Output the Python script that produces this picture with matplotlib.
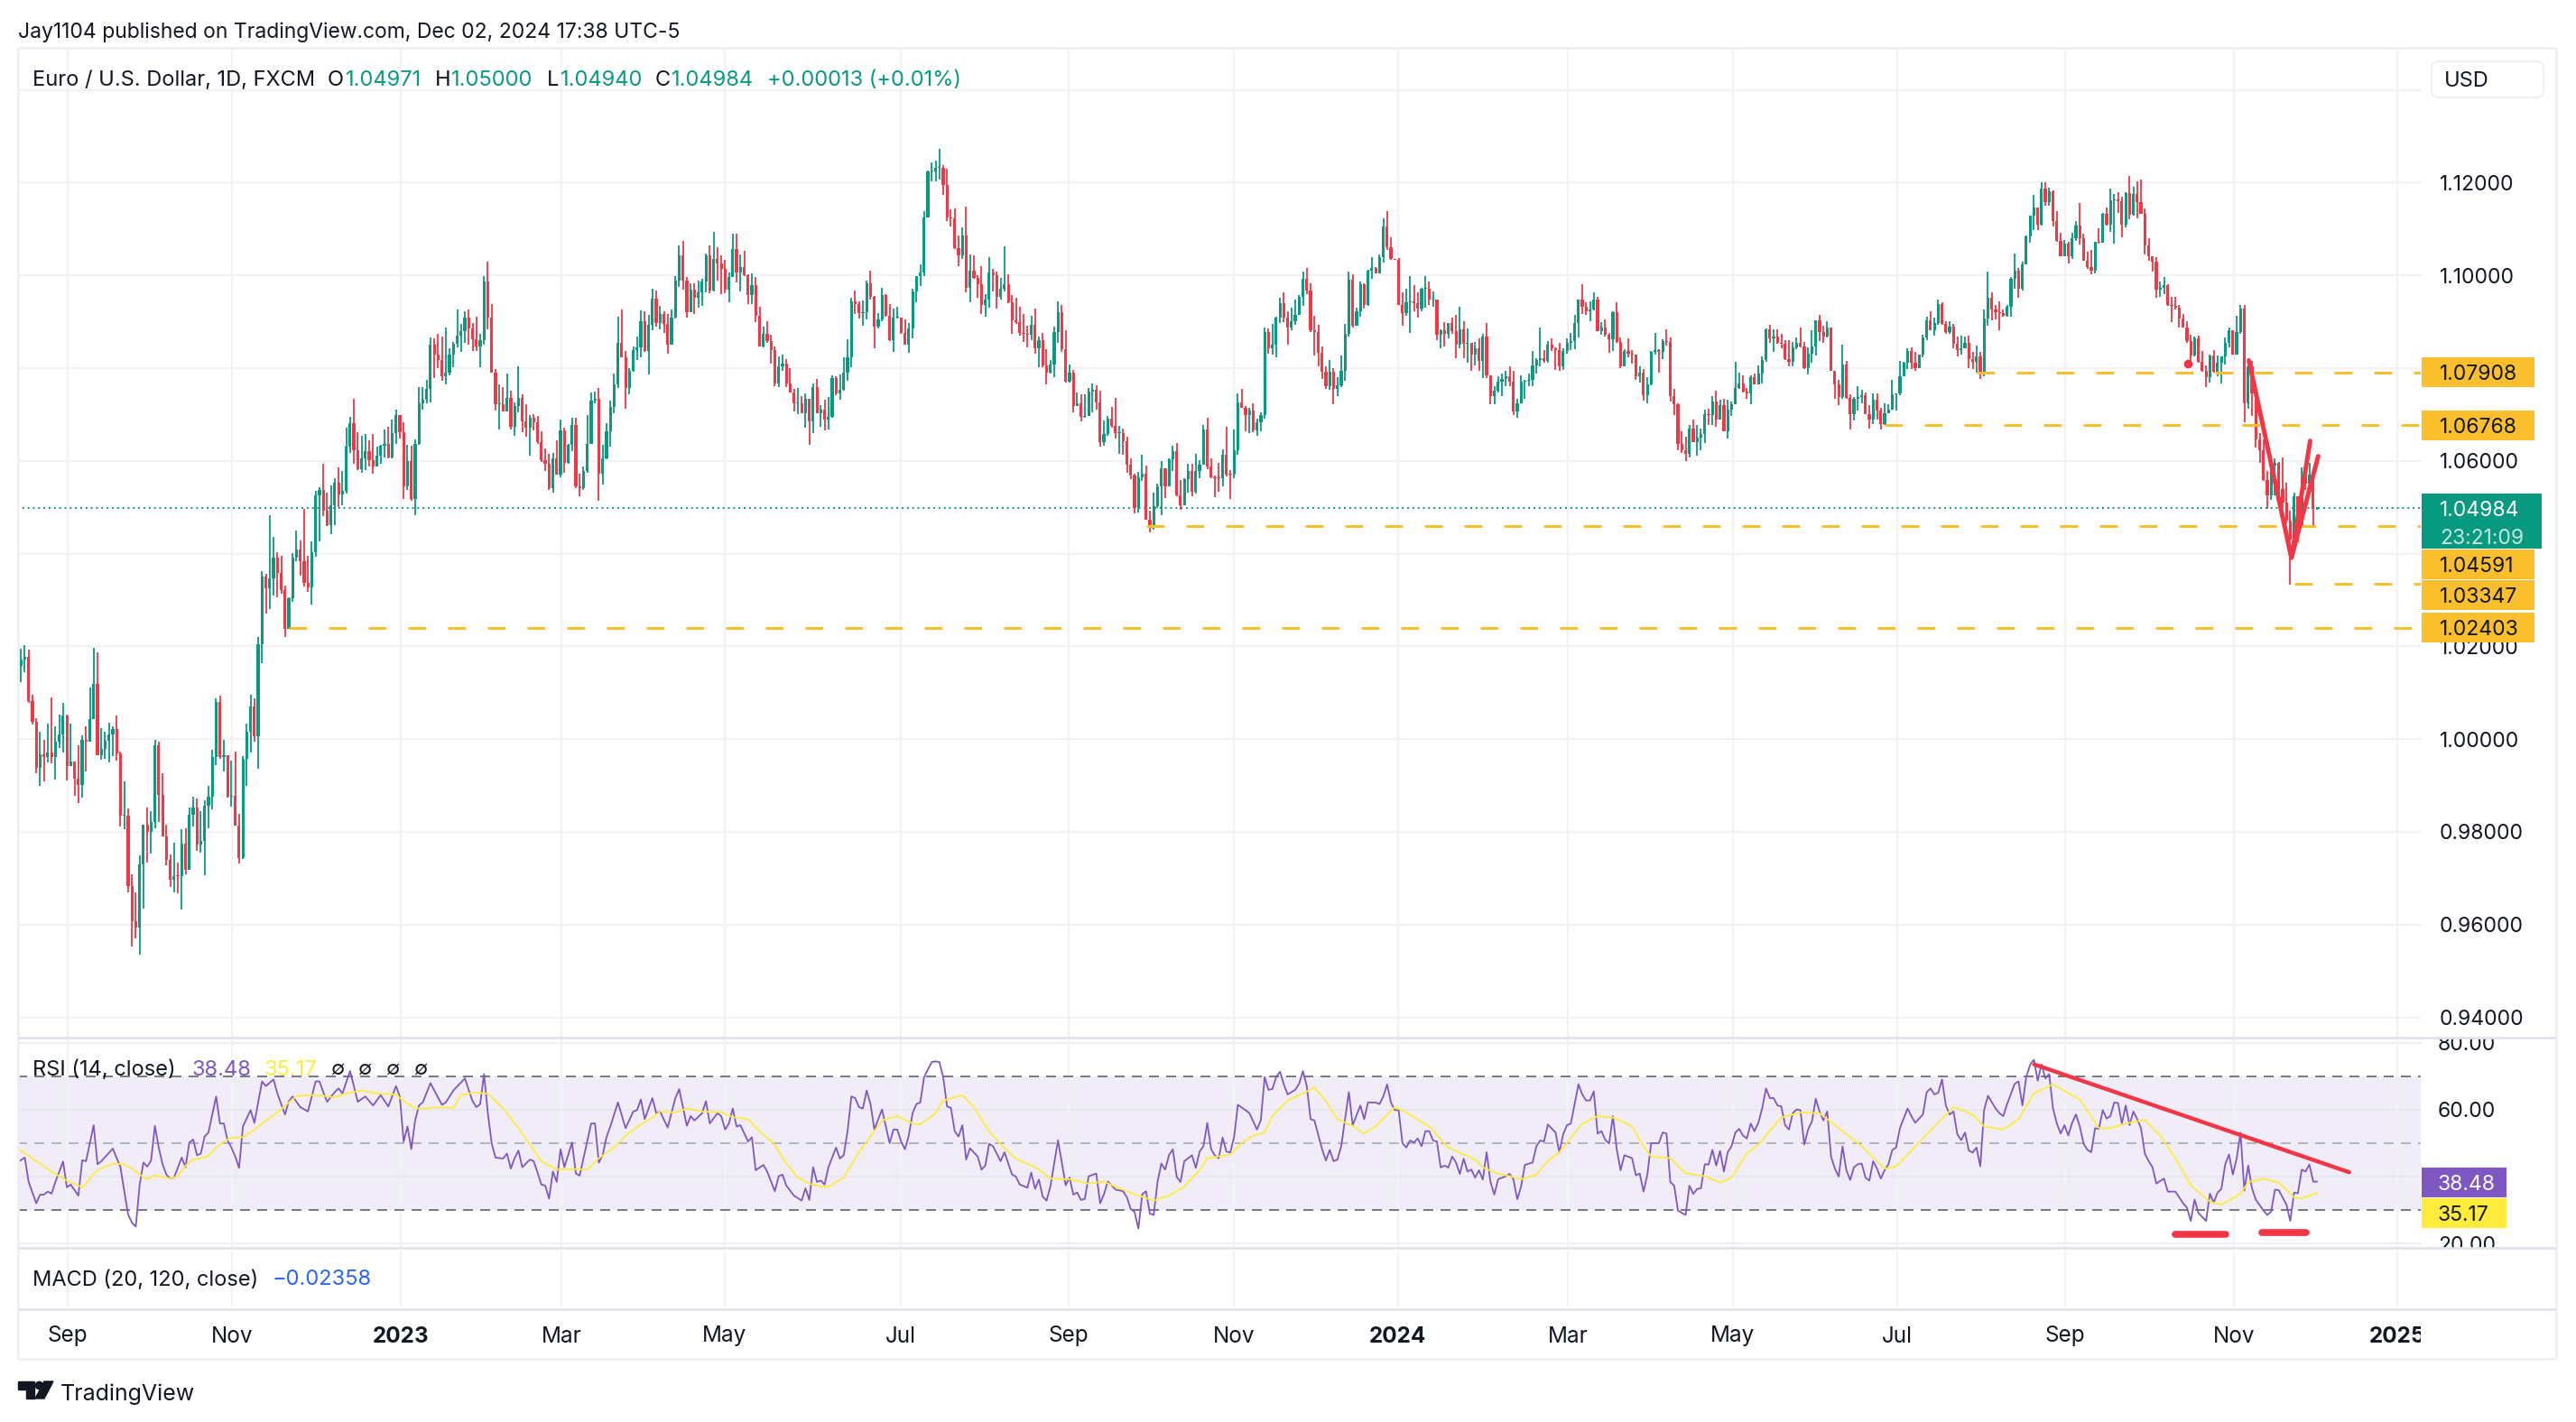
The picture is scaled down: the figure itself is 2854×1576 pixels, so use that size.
import numpy as np
import matplotlib.pyplot as plt
from matplotlib.patches import FancyBboxPatch

W, H = 2854, 1576

# daily bars in pips, 1.0000 = 10000
first_open = 10256
closes = [
    10157,10172,10177,10083,10038,9939,9967,9962,9972,9962,9994,10010,10050,9942,9952,9914,9902,9999,9994,10043,
    10119,9966,9979,9997,10011,10022,9969,9835,9835,9684,9608,9593,9729,9815,9799,9822,9986,9880,9791,9739,
    9697,9705,9704,9774,9718,9837,9853,9773,9781,9857,9875,9961,10080,9961,9966,9875,9878,9813,9744,9957,
    10016,10070,10006,10204,10350,10325,10347,10392,10358,10322,10238,10303,10392,10409,10383,10337,10327,10403,10525,10538,
    10492,10461,10504,10553,10528,10535,10630,10682,10622,10583,10605,10620,10602,10588,10612,10632,10637,10608,10660,10698,
    10662,10545,10600,10518,10637,10725,10731,10755,10850,10830,10818,10783,10791,10830,10853,10870,10880,10909,10885,10862,
    10847,10860,10986,10909,10791,10723,10723,10707,10735,10674,10718,10735,10685,10672,10693,10684,10640,10602,10593,10541,
    10606,10570,10665,10595,10634,10677,10546,10541,10578,10637,10729,10733,10572,10606,10663,10716,10764,10854,10824,10758,
    10795,10839,10844,10902,10837,10894,10949,10898,10917,10896,10850,10908,10989,11044,10989,10920,10970,10951,10964,10987,
    11044,10968,11036,11026,11014,10970,10997,11057,11006,11017,11000,10957,10978,10913,10847,10873,10859,10839,10766,10803,
    10810,10766,10748,10724,10724,10703,10733,10685,10760,10703,10711,10689,10695,10779,10745,10753,10791,10823,10943,10939,
    10918,10920,10983,10954,10889,10905,10958,10912,10860,10908,10909,10876,10850,10886,10965,10999,11006,11125,11224,11224,
    11231,11231,11195,11125,11122,11059,11044,11085,10973,11011,10994,10980,10936,10947,11007,11000,10953,10971,10980,10942,
    10903,10899,10876,10873,10872,10894,10842,10861,10806,10791,10808,10878,10921,10841,10771,10791,10719,10725,10694,10697,
    10749,10753,10726,10641,10658,10691,10676,10659,10659,10642,10591,10569,10498,10564,10572,10474,10456,10503,10545,10584,
    10546,10603,10620,10526,10505,10560,10578,10534,10579,10592,10668,10587,10565,10563,10562,10613,10571,10570,10622,10726,
    10715,10698,10709,10666,10683,10698,10878,10843,10850,10909,10940,10909,10887,10902,10914,10953,10992,10968,10882,10877,
    10833,10793,10761,10792,10756,10763,10794,10874,10990,10892,10922,10981,10936,11010,11015,11005,11040,11105,11060,11036,
    11034,10937,10919,10942,10944,10940,10929,10971,10972,10948,10948,10872,10882,10873,10897,10880,10851,10884,10852,10854,
    10830,10843,10816,10869,10785,10740,10752,10770,10777,10782,10770,10706,10725,10770,10773,10775,10805,10818,10822,10816,
    10850,10843,10838,10803,10837,10854,10858,10897,10948,10932,10922,10927,10948,10880,10887,10871,10863,10920,10856,10804,
    10836,10831,10830,10783,10790,10741,10765,10835,10838,10835,10858,10856,10740,10723,10636,10622,10616,10670,10641,10651,
    10657,10701,10699,10728,10689,10720,10663,10711,10722,10758,10767,10750,10746,10780,10765,10788,10817,10884,10864,10868,
    10855,10852,10819,10813,10845,10855,10847,10799,10831,10847,10903,10877,10868,10888,10795,10764,10738,10808,10735,10701,
    10733,10737,10742,10701,10689,10732,10709,10679,10703,10710,10743,10745,10782,10811,10837,10811,10800,10829,10866,10903,
    10881,10898,10939,10895,10877,10890,10852,10838,10843,10855,10819,10813,10826,10787,10907,10952,10926,10921,10919,10913,
    10932,10992,11011,10971,11024,11084,11128,11147,11110,11188,11158,11182,11118,11075,11042,11068,11042,11081,11108,11081,
    11032,11018,11011,11073,11071,11133,11110,11161,11163,11159,11110,11178,11130,11175,11157,11133,11065,11041,11029,10970,
    10973,10979,10937,10935,10930,10907,10888,10859,10828,10864,10813,10795,10780,10828,10792,10811,10826,10855,10882,10830,
    10877,10928,10725,10803,10745,10647,10622,10558,10526,10590,10595,10540,10511,10472,10430,10524,10459,10566,10550,10570,
    10497,10498,
]
highs = [
    10268,10195,10202,10192,10096,10046,10016,9999,10033,10090,10028,10053,10078,10053,10033,9944,9987,10008,10028,10112,
    10197,10187,10023,10016,10035,10028,10051,9974,9908,9850,9709,9670,9749,9815,9853,9845,9999,9994,9926,9815,
    9751,9776,9734,9806,9808,9853,9875,9872,9845,9868,9900,9977,10088,10093,9999,9966,9954,9974,9838,9964,
    10033,10095,10088,10221,10363,10357,10482,10437,10404,10395,10332,10305,10402,10449,10429,10496,10395,10427,10535,10543,
    10593,10531,10548,10563,10586,10579,10672,10694,10734,10662,10655,10657,10644,10658,10630,10634,10667,10674,10690,10711,
    10698,10684,10634,10632,10647,10759,10759,10774,10866,10865,10873,10868,10887,10842,10857,10926,10895,10922,10927,10898,
    10911,10873,10998,11030,10939,10798,10764,10759,10789,10751,10726,10803,10743,10722,10698,10701,10696,10664,10627,10615,
    10618,10644,10690,10672,10637,10692,10692,10573,10588,10698,10747,10749,10758,10634,10682,10729,10788,10910,10927,10836,
    10800,10847,10868,10925,10923,10915,10972,10968,10934,10922,10916,10927,10999,11065,11075,10997,10983,10982,10988,10992,
    11048,11065,11094,11061,11044,11034,11007,11090,11090,11046,11052,11002,11004,10997,10933,10889,10902,10871,10846,10826,
    10830,10819,10800,10755,10757,10740,10745,10733,10766,10777,10721,10731,10737,10784,10782,10787,10823,10863,10951,10968,
    10944,10946,10989,11011,10955,10918,10973,10960,10939,10929,10932,10909,10905,10898,10972,10999,11024,11138,11226,11244,
    11247,11273,11237,11229,11143,11145,11085,11104,11149,11046,11044,11001,11019,10960,11039,11014,11009,10994,11063,11002,
    10958,10951,10933,10916,10892,10912,10929,10868,10875,10841,10818,10890,10943,10937,10881,10807,10797,10747,10744,10744,
    10758,10766,10763,10751,10687,10696,10716,10735,10676,10669,10653,10606,10572,10577,10614,10590,10493,10531,10550,10600,
    10573,10605,10633,10639,10558,10562,10594,10594,10615,10602,10677,10693,10605,10568,10596,10625,10673,10581,10667,10746,
    10755,10719,10714,10724,10691,10704,10887,10885,10895,10911,10951,10964,10922,10931,10948,10957,11008,11015,10983,10913,
    10893,10847,10804,10818,10800,10780,10827,10895,11008,11002,10930,10986,10983,11012,11039,11017,11045,11122,11138,11083,
    11036,11038,10964,10971,10998,10978,10964,10973,10998,10986,10966,10948,10884,10900,10897,10908,10915,10932,10901,10885,
    10847,10856,10864,10874,10897,10780,10761,10782,10788,10795,10804,10794,10733,10785,10774,10788,10837,10822,10887,10838,
    10858,10864,10845,10854,10843,10865,10876,10915,10948,10981,10942,10943,10963,10953,10900,10905,10875,10922,10942,10867,
    10840,10864,10838,10827,10804,10798,10780,10836,10876,10841,10862,10884,10866,10755,10725,10664,10653,10678,10689,10678,
    10669,10710,10713,10739,10751,10731,10733,10731,10728,10813,10790,10785,10758,10784,10789,10806,10826,10886,10894,10884,
    10883,10873,10861,10860,10856,10866,10888,10856,10845,10882,10903,10915,10891,10901,10888,10780,10774,10851,10816,10744,
    10738,10761,10753,10748,10721,10746,10746,10715,10725,10723,10775,10745,10816,10814,10842,10845,10834,10830,10871,10910,
    10923,10908,10947,10941,10901,10901,10895,10868,10870,10869,10870,10835,10848,10834,10926,11008,10964,10937,10943,10926,
    10936,10997,11047,11015,11029,11086,11129,11173,11147,11200,11200,11190,11183,11139,11092,11076,11072,11091,11118,11156,
    11089,11050,11054,11073,11101,11134,11146,11188,11175,11180,11169,11180,11214,11191,11202,11207,11144,11081,11042,11039,
    10987,10996,10981,10954,10954,10936,10916,10901,10871,10869,10870,10837,10806,10829,10839,10828,10826,10866,10888,10882,
    10913,10936,10936,10822,10816,10767,10660,10647,10579,10592,10605,10598,10608,10553,10492,10531,10524,10586,10566,10595,
    10570,10500,
]
lows = [
    10152,10122,10145,10078,10031,9926,9900,9909,9949,9947,9912,9981,9972,9911,9942,9878,9863,9874,9931,9994,
    10058,9966,9956,9957,9949,9964,9954,9812,9806,9669,9553,9570,9536,9635,9734,9753,9808,9822,9791,9728,
    9682,9670,9667,9632,9708,9719,9812,9759,9756,9707,9808,9848,9943,9957,9931,9873,9855,9813,9731,9741,
    9900,9971,9994,9937,10164,10271,10281,10310,10305,10313,10221,10238,10296,10383,10353,10330,10318,10291,10393,10427,
    10481,10459,10442,10462,10501,10504,10530,10617,10593,10581,10575,10580,10588,10573,10588,10594,10607,10605,10606,10637,
    10649,10518,10538,10513,10482,10635,10710,10724,10726,10779,10799,10773,10765,10784,10801,10844,10835,10855,10850,10836,
    10836,10802,10850,10883,10791,10708,10668,10707,10707,10667,10654,10705,10661,10652,10611,10665,10636,10598,10578,10537,
    10532,10570,10565,10575,10593,10620,10541,10523,10537,10575,10648,10724,10514,10549,10604,10630,10702,10757,10823,10713,
    10744,10793,10817,10823,10834,10786,10881,10889,10883,10875,10831,10850,10907,10975,10970,10908,10920,10916,10931,10935,
    10964,10962,10965,10989,10960,10962,10941,10996,10984,10965,10999,10939,10939,10899,10846,10844,10854,10810,10761,10760,
    10794,10759,10747,10706,10701,10702,10672,10635,10659,10702,10674,10666,10667,10692,10742,10732,10751,10773,10802,10916,
    10907,10891,10905,10947,10843,10885,10901,10911,10859,10835,10907,10874,10850,10833,10865,10941,10977,10999,11124,11203,
    11202,11207,11173,11118,11106,11057,11019,11036,10964,10941,10992,10951,10916,10911,10931,10965,10928,10947,10966,10940,
    10873,10896,10870,10856,10844,10861,10831,10802,10802,10765,10789,10780,10854,10834,10769,10769,10705,10718,10685,10693,
    10705,10705,10710,10630,10632,10654,10672,10648,10615,10614,10574,10560,10487,10489,10557,10473,10446,10452,10499,10482,
    10519,10554,10579,10524,10495,10508,10532,10523,10529,10563,10592,10583,10563,10521,10534,10545,10567,10517,10563,10614,
    10714,10664,10659,10662,10655,10664,10691,10832,10830,10824,10898,10900,10851,10882,10893,10924,10934,10960,10877,10827,
    10804,10777,10756,10754,10722,10740,10759,10773,10869,10888,10891,10911,10928,10934,10992,11005,11005,11028,11054,11033,
    11033,10937,10891,10913,10876,10923,10909,10923,10931,10937,10932,10860,10843,10847,10865,10874,10822,10843,10821,10812,
    10795,10806,10795,10779,10779,10722,10722,10748,10740,10761,10762,10699,10693,10724,10733,10762,10762,10788,10803,10812,
    10812,10836,10796,10795,10796,10832,10839,10841,10866,10917,10915,10901,10924,10880,10872,10869,10833,10836,10854,10800,
    10803,10823,10809,10775,10768,10730,10725,10763,10829,10791,10820,10848,10728,10699,10622,10618,10600,10607,10641,10611,
    10623,10638,10678,10677,10673,10689,10663,10649,10696,10722,10755,10748,10734,10722,10764,10766,10766,10813,10855,10835,
    10853,10842,10817,10804,10804,10840,10845,10798,10787,10811,10828,10859,10855,10866,10795,10733,10720,10734,10734,10667,
    10687,10709,10724,10700,10670,10679,10690,10667,10677,10702,10719,10709,10742,10782,10798,10798,10795,10811,10824,10861,
    10881,10870,10894,10894,10874,10873,10843,10826,10829,10842,10800,10798,10791,10777,10782,10892,10903,10905,10881,10910,
    10910,10911,10971,10951,10968,11023,11071,11097,11097,11108,11151,11150,11106,11073,11041,11042,11026,11036,11075,11067,
    11031,11013,11002,11005,11069,11075,11108,11094,11068,11135,11083,11104,11121,11128,11123,11133,11046,11031,11009,10951,
    10954,10960,10935,10900,10926,10888,10887,10854,10813,10826,10811,10793,10760,10769,10790,10782,10767,10808,10845,10830,
    10874,10873,10683,10712,10696,10628,10595,10556,10497,10516,10525,10498,10498,10466,10333,10450,10424,10459,10537,10540,
    10459,10494,
]

# RSI line, vertices seen on the chart
rsi_bars = [
    0,2,3,5,6,7,8,9,10,12,13,14,16,17,18,20,21,22,25,27,28,29,30,31,32,33,34,35,36,37,38,39,40,41,43,44,45,46,47,48,
    49,50,52,53,54,55,56,57,58,59,61,62,64,65,67,68,70,71,72,74,76,78,79,80,81,83,84,85,87,88,89,91,93,95,97,99,100,101,102,103,
    104,105,106,108,109,111,112,114,116,117,119,120,121,122,123,124,125,127,128,129,130,131,132,134,135,137,138,139,140,141,142,143,145,146,147,148,150,151,152,153,
    154,155,157,159,161,162,163,164,166,167,168,170,172,173,175,176,177,179,180,181,183,184,185,186,187,188,189,191,192,193,195,196,198,199,200,201,203,205,206,207,
    208,209,210,211,212,214,215,216,217,218,219,220,221,222,223,224,226,228,229,230,231,232,233,234,235,236,237,239,240,241,242,243,244,245,246,247,248,249,251,252,
    253,254,255,257,258,260,261,262,264,265,266,267,268,269,270,272,274,275,276,277,278,279,280,282,283,284,285,286,287,289,290,291,292,293,294,295,296,297,298,299,
    300,301,302,303,304,305,307,308,309,310,311,312,313,314,315,316,317,318,319,321,322,324,325,326,327,328,329,330,331,332,334,335,336,337,338,339,341,342,343,344,
    345,346,348,349,351,352,353,355,356,357,358,359,360,361,362,363,364,365,366,367,368,369,370,371,372,373,374,375,376,377,378,379,380,381,382,383,384,385,386,387,
    389,390,391,392,393,394,396,397,398,399,400,402,403,404,405,406,408,409,410,411,412,413,414,415,416,417,418,419,420,422,423,424,425,426,427,429,430,431,432,433,
    434,436,437,438,439,440,441,442,443,444,445,446,447,448,449,450,451,452,453,454,455,456,457,458,459,460,461,462,463,464,465,466,467,468,469,470,471,472,473,474,
    475,476,477,478,479,480,481,482,483,484,485,486,487,488,489,490,491,492,494,495,496,498,499,500,501,502,503,504,505,506,507,508,509,510,511,512,513,514,515,517,
    518,519,520,522,523,524,525,526,527,528,529,530,531,532,533,534,535,536,537,538,539,540,541,542,543,544,545,546,547,548,549,550,551,552,553,554,555,556,557,558,
    559,561,562,564,566,567,568,569,570,572,573,574,575,576,577,578,579,580,581,582,583,584,585,587,588,589,590,591,593,594,595,596,597,598,599,600,601,
]
rsi_values = [
    44.2,45.7,38.4,32.0,34.6,34.6,35.5,34.9,38.4,44.5,36.8,37.6,34.3,44.9,44.6,55.4,43.7,44.6,48.4,42.8,35.6,28.7,26.2,25.0,37.4,44.2,43.0,44.8,55.2,48.7,43.7,40.6,39.4,39.7,45.7,42.8,50.2,51.1,46.4,46.9,
    52.0,53.2,64.0,55.9,55.9,50.8,48.7,46.0,42.6,55.0,59.9,56.1,68.5,67.1,69.1,64.9,58.6,62.6,64.0,60.8,59.5,68.5,68.5,65.3,62.4,65.3,66.4,64.9,71.6,67.1,62.4,64.0,61.3,64.4,61.0,67.1,64.0,50.5,55.0,48.2,
    56.8,61.3,62.2,68.0,65.8,61.5,62.2,65.8,68.2,69.4,62.6,60.8,61.7,70.7,59.0,50.0,45.7,45.4,46.9,42.4,45.5,47.8,42.8,45.1,44.6,37.6,37.3,33.4,41.5,38.4,48.2,42.8,50.2,40.9,40.3,45.5,55.9,55.9,44.2,46.4,
    51.8,55.0,62.2,54.5,59.5,59.9,63.1,57.2,63.5,59.0,59.5,54.7,63.5,66.2,55.2,58.1,56.8,59.0,62.6,55.9,59.0,58.1,54.1,55.9,60.4,55.0,55.4,50.5,51.8,41.9,43.5,41.5,35.6,40.1,40.6,37.3,34.3,32.8,36.5,33.0,
    42.8,38.4,38.8,37.6,42.8,48.7,45.4,46.4,53.6,64.0,63.5,60.8,60.4,65.8,61.7,54.1,60.1,50.0,54.1,54.1,50.5,48.2,52.3,59.0,61.7,62.2,69.8,74.3,74.5,74.3,69.8,61.0,60.6,53.6,52.0,55.4,45.1,48.5,46.0,42.1,
    43.3,49.8,49.1,44.6,47.3,40.6,40.0,37.6,36.7,41.2,36.3,39.1,34.0,32.8,37.0,50.9,37.4,39.7,34.6,35.2,33.0,33.3,40.1,40.9,32.0,34.7,38.5,37.4,36.1,35.6,33.8,30.3,29.4,24.4,34.7,35.6,28.9,28.5,38.4,43.9,
    42.1,46.4,48.2,39.9,38.4,44.6,46.4,42.6,47.5,49.1,56.1,48.2,46.3,45.5,51.7,47.5,47.2,51.8,61.5,59.9,59.0,54.1,57.0,69.8,66.0,66.2,69.8,71.4,67.6,64.6,66.0,67.8,71.6,67.1,57.2,56.8,48.2,44.8,48.0,44.6,
    45.1,49.1,65.3,55.4,61.3,57.2,62.2,62.2,61.7,64.0,67.6,62.2,59.9,59.9,50.0,48.7,50.8,50.2,51.4,49.1,53.6,53.6,50.8,50.5,42.7,43.3,42.7,46.0,44.2,40.8,45.4,41.5,42.1,39.7,41.9,39.1,47.3,38.4,34.6,39.2,
    40.1,40.8,39.2,33.2,37.0,43.5,44.2,49.1,50.8,50.5,55.6,53.2,47.2,52.7,55.4,55.9,67.6,64.6,62.8,62.8,65.5,52.9,53.6,51.0,49.9,58.1,48.2,41.9,46.4,45.5,40.4,40.9,35.5,40.6,50.0,50.0,53.2,52.9,38.4,37.3,
    29.8,28.5,37.3,34.8,36.3,36.5,43.7,43.6,48.0,43.3,47.7,41.5,47.3,49.1,53.2,54.3,52.3,51.4,55.9,53.6,56.1,60.4,66.4,63.5,63.5,61.3,61.0,55.4,54.1,59.0,60.1,59.9,49.6,54.1,56.5,63.3,59.5,56.8,59.5,46.0,
    42.4,40.0,49.1,41.9,39.0,42.8,43.7,43.9,39.7,38.8,44.6,42.4,39.4,41.9,43.7,48.0,48.7,54.5,60.4,58.1,56.1,58.6,65.3,66.4,64.6,65.1,69.1,61.3,58.6,59.5,52.7,50.9,53.2,47.8,47.2,48.7,43.1,59.9,64.2,60.4,
    59.0,58.1,61.7,67.8,68.5,61.3,69.8,73.4,75.0,68.7,73.6,69.4,70.7,60.4,55.9,52.9,55.4,52.3,56.1,58.6,55.0,49.8,48.0,47.3,54.5,54.3,59.9,57.4,58.1,62.2,62.0,55.9,61.3,55.4,59.5,57.2,54.5,46.9,44.6,42.8,
    37.9,39.4,35.5,35.5,32.0,30.7,26.7,33.1,29.1,26.7,34.9,32.2,35.2,36.3,43.7,46.6,40.6,45.5,53.2,35.8,43.3,36.5,33.1,29.8,28.5,29.5,36.1,35.9,31.6,26.7,35.2,35.0,42.1,41.5,43.6,38.48,38.48,
]
ma_bars = [
    0,1,5,9,13,17,18,20,22,25,28,30,32,34,36,40,42,44,46,48,50,52,54,56,59,62,65,68,71,73,77,80,83,86,90,94,99,101,104,107,
    110,114,116,119,123,127,131,134,137,141,146,149,152,156,160,163,166,168,172,175,179,184,187,191,194,198,200,204,207,210,212,216,219,222,226,230,234,236,240,242,
    247,250,254,257,261,265,267,270,275,280,284,288,292,297,301,305,309,311,317,320,323,326,328,332,336,339,342,345,349,352,355,360,363,369,374,381,383,386,390,393,
    397,400,403,409,413,417,420,422,425,427,432,436,441,445,448,452,455,461,466,471,476,482,488,491,495,501,506,511,514,519,523,527,532,537,539,544,547,551,556,560,
    564,568,573,576,581,583,587,591,595,597,601,
]
ma_values = [
    47.8,47.8,44.6,41.5,38.8,36.8,37.9,41.0,42.4,43.9,43.7,42.4,40.6,39.2,40.4,39.4,40.1,43.3,45.1,45.5,46.2,48.7,50.5,51.6,51.8,54.0,56.8,59.2,62.2,64.1,64.4,64.2,63.7,64.9,65.8,64.9,64.6,62.6,60.4,60.4,
    60.8,60.6,64.4,65.1,64.9,60.4,54.5,49.6,44.6,42.1,42.2,42.1,45.5,48.7,53.2,55.6,57.7,59.5,59.2,60.4,59.5,59.3,57.8,57.2,53.6,49.6,45.5,39.7,37.9,37.0,37.0,39.7,45.5,50.5,56.8,58.1,55.9,55.6,59.0,62.8,
    64.4,60.8,53.6,49.6,45.3,43.3,42.1,39.4,39.2,37.9,38.5,36.5,34.7,32.8,34.3,37.0,41.9,45.5,46.6,50.0,52.3,53.2,58.1,62.8,64.9,66.7,62.6,57.2,55.2,52.9,55.0,60.8,59.2,55.0,48.7,45.1,42.8,41.2,40.1,39.2,
    40.6,44.6,47.3,55.9,58.1,57.7,56.1,55.0,49.1,46.0,45.5,41.0,40.1,38.2,39.7,46.9,49.6,57.7,59.2,59.0,54.5,49.1,42.4,43.0,47.8,55.0,60.8,58.6,55.0,54.1,57.2,64.9,67.6,64.4,63.1,54.5,54.5,55.9,57.0,52.3,
    45.5,37.4,32.5,31.6,34.8,38.3,39.4,38.2,33.8,33.4,35.17,
]

tick_bars = [13.2,56.1,100.2,142.2,184.9,230.9,274.8,317.9,360.8,405.2,448.3,491.3,535.1,579.2,621.9]
tick_labels = ['Sep','Nov','2023','Mar','May','Jul','Sep','Nov','2024','Mar','May','Jul','Sep','Nov','2025']
price_ticks = [0.94,0.96,0.98,1.00,1.02,1.04,1.06,1.08,1.10,1.12,1.14]
price_labels = [0.94,0.96,0.98,1.00,1.02,1.06,1.10,1.12]
levels = [1.07908,1.06768,1.04591,1.03347,1.02403]
level_start = [512,488,295,595,71]
level_tag_at = [1.07908,1.06768,1.0376,1.0310,1.02403]
last_close = 1.04984

UP = '#089981'
DOWN = '#F23645'
GOLD = '#FBBE2D'
INK = '#131722'
GRID = '#F2F2F5'
LINE = '#E0E3EB'
PURPLE = '#7E57C2'
YELLOW = '#FFEB3B'
MID = 'center_baseline'


def pane(left, top, right, bottom):
    """Axes from figure edges given in pixels"""
    ax = plt.axes([left / W, 1 - bottom / H, (right - left) / W, (bottom - top) / H])
    plt.axis('off')
    return ax


plt.rcParams['font.family'] = ['Inter', 'DejaVu Sans']
plt.figure(figsize=(W / 100, H / 100), dpi=100)

# page furniture in pixels
pane(0, 0, W, H), plt.xlim(0, W), plt.ylim(H, 0)
plt.hlines([53, 1506], 20, 2832, color='#EEEEF3', lw=2)
plt.vlines([20, 2832], 53, 1506, color='#EEEEF3', lw=2)
plt.hlines([1150, 1383, 1451], 20, 2832, color=LINE, lw=2)
plt.text(20, 33, 'Jay1104 published on TradingView.com, Dec 02, 2024 17:38 UTC-5', fontsize=16.5, color=INK, va=MID)
plt.text(36, 86, 'Euro / U.S. Dollar, 1D, FXCM', fontsize=17, color=INK, va=MID)
for x, s in [(363, 'O'), (482, 'H'), (606, 'L'), (726, 'C')]:
    plt.text(x, 86, s, fontsize=17, color=INK, va=MID)
for x, s in [(383, '1.04971'), (500, '1.05000'), (621, '1.04940'), (744, '1.04984'), (850, '+0.00013 (+0.01%)')]:
    plt.text(x, 86, s, fontsize=17, color=UP, va=MID)
plt.text(36, 1183, 'RSI (14, close)', fontsize=17, color=INK, va=MID)
plt.text(212, 1183, '38.48', fontsize=17, color=PURPLE, va=MID)
plt.text(293, 1183, '35.17', fontsize=17, color=YELLOW, va=MID)
for x in [367, 397, 428, 459]:
    plt.text(x, 1183, '∅', fontsize=16, color=INK, va=MID)
plt.text(36, 1416, 'MACD (20, 120, close)', fontsize=17, color=INK, va=MID)
plt.text(302, 1416, '−0.02358', fontsize=17, color='#2962FF', va=MID)
plt.gca().add_patch(FancyBboxPatch((2694, 68), 124, 40, boxstyle='round,pad=0,rounding_size=8',
                                   mutation_aspect=1, fc='white', ec='#EEEEF3', lw=1.4, zorder=9))
plt.gca().set_zorder(5)
plt.text(2708, 87, 'USD', fontsize=17, color=INK, va=MID, zorder=10)
plt.text(67, 1543, 'TradingView', fontsize=18, color=INK, va=MID)
plt.fill([20, 38, 38, 29, 29, 20], [1531, 1531, 1550, 1550, 1540, 1540], color=INK)
plt.fill([49, 59, 49, 39], [1531, 1531, 1550, 1550], color=INK)
plt.plot(43, 1535, 'o', color=INK, ms=6)

# candles
opens = np.array([first_open] + closes[:-1]) / 1e4
c = np.array(closes) / 1e4
hi = np.maximum.reduce([np.array(highs) / 1e4, opens, c])
lo = np.minimum.reduce([np.array(lows) / 1e4, opens, c])
bars = np.arange(len(c))
colors = [UP if b >= a else DOWN for a, b in zip(opens, c)]

pane(20, 53, 2682, 1150)
plt.xlim(0.24, 628.1), plt.ylim(0.93564, 1.14906)
plt.hlines(price_ticks, 0, 630, color=GRID, lw=1.6)
plt.vlines(tick_bars, 0.9, 1.2, color=GRID, lw=1.6)
plt.hlines(last_close, 0, 630, color=UP, lw=1.4, linestyles=(0, (1, 2)), zorder=2)
plt.vlines(bars, lo, hi, color=colors, lw=1.3, zorder=3)
plt.bar(bars, np.maximum(np.abs(c - opens), 0.0002), bottom=np.minimum(c, opens), width=0.75, color=colors, zorder=3)
plt.hlines(levels, level_start, 630, color=GOLD, lw=2.2, linestyles=(0, (6.5, 7.9)), zorder=4)
plt.plot([583.2, 594.3, 599.2], [1.0816, 1.0391, 1.0643], color=DOWN, lw=3.6, solid_joinstyle='miter', solid_capstyle='round', zorder=5)
plt.plot([594.3, 601.3], [1.0391, 1.0610], color=DOWN, lw=3.6, solid_capstyle='round', zorder=5)
plt.plot(567.2, 1.0809, 'o', color=DOWN, ms=6, zorder=5)

# price scale
pane(2682, 53, 2832, 1150)
plt.xlim(2682, 2832), plt.ylim(0.93564, 1.14906)
for p in price_labels:
    plt.text(2703, p, '%.5f' % p, fontsize=16.5, color=INK, va=MID, clip_on=True)
for level, y in zip(levels, level_tag_at):
    plt.barh(y, 125, left=2683, height=0.0064, color=GOLD, zorder=3)
    plt.text(2703, y, '%.5f' % level, fontsize=16.5, color=INK, va=MID, zorder=4)
plt.barh(1.0470, 133, left=2683, height=0.0120, color=UP, zorder=5)
plt.text(2703, 1.04984, '1.04984', fontsize=16.5, color='white', va=MID, zorder=6)
plt.text(2703, 1.04375, '23:21:09', fontsize=16.5, color='#C6E6DF', va=MID, zorder=6)

# RSI pane
pane(20, 1150, 2682, 1383)
plt.xlim(0.24, 628.1), plt.ylim(18.65, 81.62)
plt.axhspan(30, 70, color=PURPLE, alpha=0.1, lw=0)
plt.hlines([20, 40, 60, 80], 0, 630, color=LINE, lw=1.4, alpha=0.6)
plt.vlines(tick_bars, 10, 90, color=GRID, lw=1.6)
plt.hlines([30, 70], 0, 628, color='#787B86', lw=1.44, linestyles=(0, (5.5, 4)))
plt.hlines(50, 0, 628, color='#787B86', lw=1.44, alpha=0.5, linestyles=(0, (5.5, 4)))
plt.plot(rsi_bars, rsi_values, color=PURPLE, lw=1.3)
plt.plot(ma_bars, ma_values, color=YELLOW, lw=1.3)
plt.plot([527.1, 609.4], [73.6, 41.3], color=DOWN, lw=3.2, solid_capstyle='round', zorder=5)
plt.plot([564, 577.2], [22.6, 22.6], color=DOWN, lw=5.5, solid_capstyle='round', zorder=5)
plt.plot([586.5, 598.1], [23.2, 23.2], color=DOWN, lw=5.5, solid_capstyle='round', zorder=5)

# RSI scale
pane(2682, 1150, 2832, 1383)
plt.xlim(2682, 2832), plt.ylim(18.65, 81.62)
for v in [80, 60, 20]:
    plt.text(2701, v, '%.2f' % v, fontsize=16.5, color=INK, va=MID, clip_on=True)
plt.barh(38.3, 94, left=2683, height=9, color=PURPLE, zorder=3)
plt.text(2701, 38.3, '38.48', fontsize=16.5, color='white', va=MID, zorder=4)
plt.barh(29.1, 94, left=2683, height=9, color=YELLOW, zorder=3)
plt.text(2701, 29.1, '35.17', fontsize=16.5, color=INK, va=MID, zorder=4)

# MACD pane has only grid
pane(20, 1383, 2682, 1451)
plt.xlim(0.24, 628.1)
plt.vlines(tick_bars, 0, 1, color=GRID, lw=1.6)

# time axis
pane(20, 1451, 2682, 1506)
plt.xlim(0.24, 628.1), plt.ylim(0, 1)
for x, s in zip(tick_bars, tick_labels):
    plt.text(x, 0.5, s, fontsize=17.5, color=INK, ha='center', va=MID, clip_on=True,
             fontweight='bold' if s.isdigit() else 'normal')

plt.savefig('out.png', dpi=100)
